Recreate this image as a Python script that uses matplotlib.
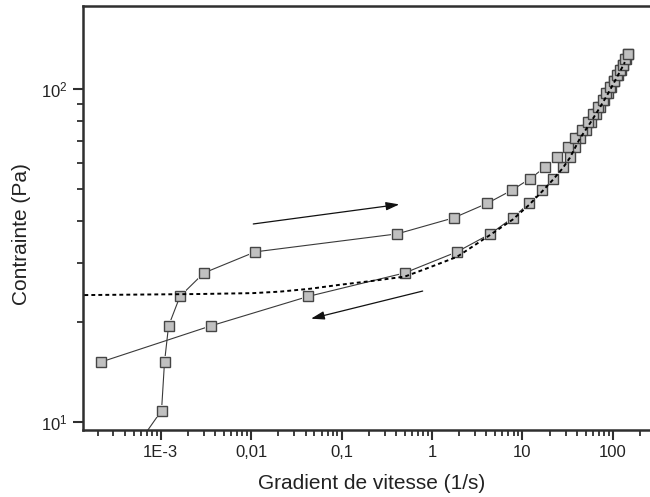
import matplotlib
matplotlib.use("Agg")
import matplotlib.pyplot as plt
from matplotlib.ticker import FixedLocator, FixedFormatter, LogLocator, NullFormatter

plt.rcParams['font.family'] = ['Liberation Sans', 'DejaVu Sans']
plt.rcParams['mathtext.fontset'] = 'custom'
plt.rcParams['mathtext.rm'] = 'Liberation Sans'
plt.rcParams['mathtext.it'] = 'Liberation Sans'

# ---- data ----
up_rate = [2.75e-4, 1.02e-3, 1.10e-3, 1.22e-3, 1.63e-3, 3.0e-3, 0.0111, 0.413,
           1.74, 4.06, 7.6, 12.2, 17.8, 24.1, 31.7, 38.0, 46.0, 53.5, 61.0,
           69.0, 77.0, 85.0, 93.0, 102.0, 111.0, 120.0, 129.0, 138.0, 147.0]
up_stress = [6.5, 10.8, 15.1, 19.4, 23.8, 28.0, 32.4, 36.7, 41.0, 45.3, 49.6,
             53.8, 58.2, 62.5, 66.8, 71.2, 75.5, 79.8, 84.1, 88.4, 92.7, 97.0,
             101.3, 105.6, 109.9, 114.2, 118.5, 122.8, 127.1]

down_rate = [147.0, 140.0, 131.0, 122.0, 113.0, 104.0, 96.0, 88.0, 80.0, 72.0,
             64.5, 57.0, 50.0, 43.0, 38.0, 33.6, 27.9, 21.8, 16.5, 11.8, 7.8,
             4.42, 1.89, 0.499, 0.0428, 3.56e-3, 2.16e-4]
down_stress = [127.1, 122.8, 118.5, 114.2, 109.9, 105.6, 101.3, 97.0, 92.7,
               88.4, 84.1, 79.8, 75.5, 71.2, 66.8, 62.5, 58.2, 53.8, 49.6, 45.3,
               41.0, 36.7, 32.4, 28.0, 23.8, 19.4, 15.1]

fit_rate = [1.0e-4, 2.7e-3, 0.0105, 0.0208, 0.045, 0.096, 0.22, 0.50, 0.88,
            1.89, 4.38, 7.8, 11.8, 16.5, 21.8, 27.9, 33.6, 43.0, 57.0, 72.0,
            88.0, 104.0, 122.0, 136.0]
fit_stress = [24.0, 24.2, 24.35, 24.6, 25.1, 25.8, 26.5, 27.3, 28.9, 31.3,
              36.4, 40.5, 44.8, 49.2, 53.4, 57.8, 62.2, 70.8, 79.5, 88.0,
              96.6, 105.0, 113.8, 120.5]

xtick_vals = [1e-3, 1e-2, 1e-1, 1, 10, 100]
xtick_labels = ['1E-3', '0,01', '0,1', '1', '10', '100']
ytick_vals = [10, 100]
ytick_labels = [r'$10^{1}$', r'$10^{2}$']

# arrows (start, end) in data coordinates
arrow_up = ((0.01055, 39.3), (0.435, 45.0))
arrow_down = ((0.789, 24.7), (0.0459, 20.4))

# ---- figure ----
fig = plt.figure(figsize=(6.5, 4.97), dpi=100)
W, H = 650, 497
ax = fig.add_axes([83 / W, (H - 430) / H, (650 - 83) / W, (430 - 6) / H])
ax.set_xscale('log')
ax.set_yscale('log')
ax.set_xlim(1.38e-4, 258)
ax.set_ylim(9.44, 177.7)

line_col = '#3a3a3a'
for r, s in ((up_rate, up_stress), (down_rate, down_stress)):
    ax.plot(r, s, '-', color=line_col, lw=0.8, zorder=2)
for r, s in ((up_rate, up_stress), (down_rate, down_stress)):
    ax.plot(r, s, 's', ms=9.0, mfc='white', mec='white', mew=0, ls='none', zorder=3)
for r, s in ((down_rate, down_stress), (up_rate, up_stress)):
    ax.plot(r, s, 's', ms=6.8, mfc='#c0c0c0', mec='#454545', mew=1.0, ls='none', zorder=4)

ax.plot(fit_rate, fit_stress, color='black', lw=1.4, ls=(0, (2, 1.6)), zorder=5)

for (x0, y0), (x1, y1) in (arrow_up, arrow_down):
    ax.annotate('', xy=(x1, y1), xytext=(x0, y0),
                arrowprops=dict(arrowstyle='-|>,head_length=0.8,head_width=0.25',
                                color='#111111', lw=0.9, shrinkA=0, shrinkB=0),
                zorder=6)

# spines
for side in ('left', 'bottom', 'top'):
    ax.spines[side].set_linewidth(1.8)
    ax.spines[side].set_color('#2f2f2f')
ax.spines['right'].set_visible(False)

ax.xaxis.set_major_locator(FixedLocator(xtick_vals))
ax.xaxis.set_major_formatter(FixedFormatter(xtick_labels))
ax.xaxis.set_minor_locator(LogLocator(base=10, subs=range(2, 10), numticks=20))
ax.xaxis.set_minor_formatter(NullFormatter())
ax.yaxis.set_major_locator(FixedLocator(ytick_vals))
ax.yaxis.set_major_formatter(FixedFormatter(ytick_labels))
ax.yaxis.set_minor_locator(LogLocator(base=10, subs=range(2, 10), numticks=20))
ax.yaxis.set_minor_formatter(NullFormatter())

ax.tick_params(axis='both', which='major', direction='out', length=7, width=1.5,
               color='#2f2f2f', labelsize=12, labelcolor='#222222', pad=4)
ax.tick_params(axis='both', which='minor', direction='out', length=4, width=1.3,
               color='#2f2f2f')
ax.tick_params(top=False, right=False, which='both')

ax.set_xlabel('Gradient de vitesse (1/s)', fontsize=15, color='#222222')
ax.set_ylabel('Contrainte (Pa)', fontsize=15, color='#222222')
ax.xaxis.set_label_coords((372 - 83) / 567, -(474 - 430) / 424)
ax.yaxis.set_label_coords(-(83 - 31) / 567, (430 - 234) / 424)

fig.savefig('out.png', dpi=100)
